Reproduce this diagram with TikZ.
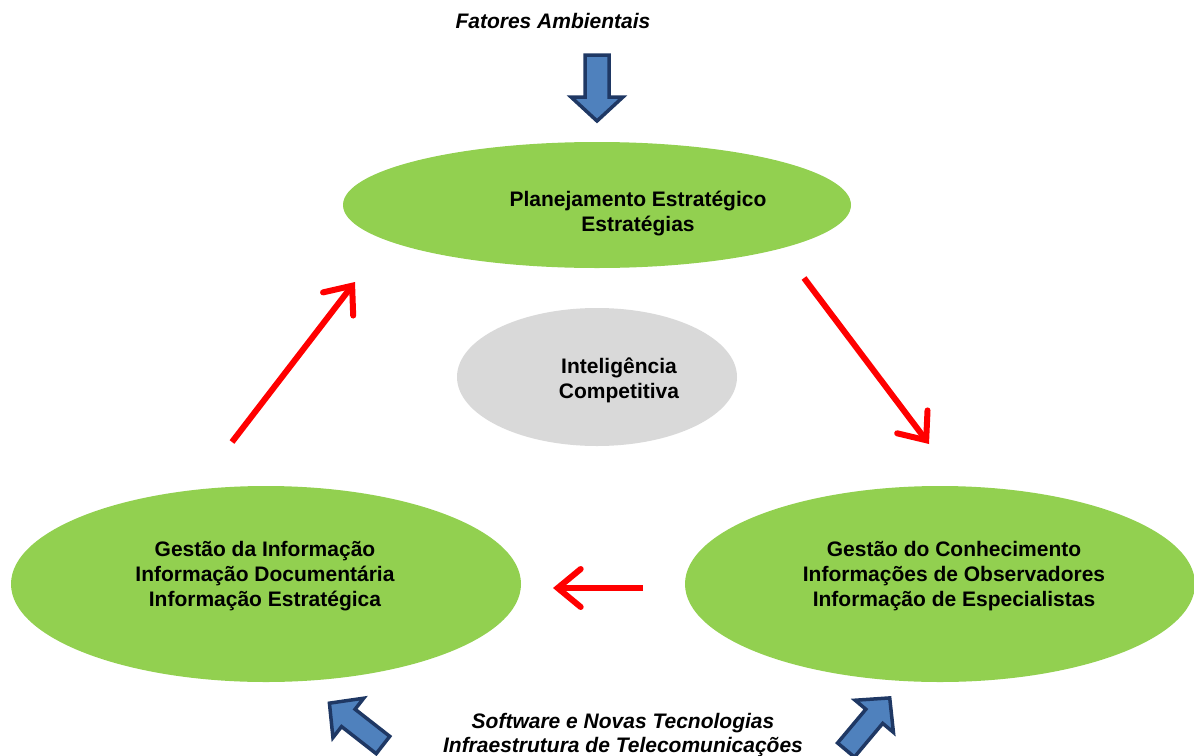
\documentclass[tikz,border=0pt]{standalone}
\usepackage{fontspec}
\setmainfont{Liberation Sans}
\usetikzlibrary{shapes.geometric,arrows.meta}

\definecolor{leafgreen}{HTML}{92D050}
\definecolor{coregray}{HTML}{D9D9D9}
\definecolor{arrowblue}{HTML}{4F81BD}
\definecolor{arrowedge}{HTML}{1F3864}
\definecolor{flowred}{HTML}{FF0000}

\tikzset{
  label text/.style={font=\fontsize{21}{25}\selectfont\bfseries, align=center, text=black},
  side text/.style={font=\fontsize{21}{24}\selectfont\bfseries\itshape, align=center, text=black},
  green oval/.style={ellipse, fill=leafgreen, draw=none, inner sep=0pt},
  gray oval/.style={ellipse, fill=coregray, draw=none, inner sep=0pt},
  flow/.style={draw=flowred, line width=6pt,
    -{Straight Barb[length=23pt,width=38pt,line cap=round,line join=miter]}},
  blockarrow/.style={fill=arrowblue, draw=arrowedge, line width=3.5pt, line join=miter},
}

\begin{document}
\begin{tikzpicture}[x=1pt,y=-1pt]
  \useasboundingbox (0,0) rectangle (1194,755);
  \clip (0,0) rectangle (1194,755);

  % ellipses
  \node[green oval, minimum width=508, minimum height=126] (plan) at (597,205) {};
  \node[gray oval, minimum width=280, minimum height=138] (ic) at (597,377) {};
  \node[green oval, minimum width=510, minimum height=196] (gi) at (266,584) {};
  \node[green oval, minimum width=510, minimum height=196] (gc) at (940,584) {};

  % ellipse labels
  \node[label text] (plantxt) at (638,214) {Planejamento Estratégico\\Estratégias};
  \node[label text] (ictxt) at (619,380) {Inteligência\\Competitiva};
  \node[label text] (gitxt) at (265,576) {Gestão da Informação\\Informação Documentária\\Informação Estratégica};
  \node[label text] (gctxt) at (954,576) {Gestão do Conhecimento\\Informações de Observadores\\Informação de Especialistas};

  % outside influences
  \node[side text] (env) at (553,21) {Fatores Ambientais};
  \node[side text] (tech) at (623,735) {Software e Novas Tecnologias\\Infraestrutura de Telecomunicações};

  % cycle connectors
  \coordinate (a1s) at (232,442); \coordinate (a1e) at (355,282);
  \coordinate (a2s) at (804,278); \coordinate (a2e) at (929,444);
  \coordinate (a3s) at (643,588); \coordinate (a3e) at (553,588);
  \draw[flow] (a1s) -- (a1e);
  \draw[flow] (a2s) -- (a2e);
  \draw[flow] (a3s) -- (a3e);

  % block arrows (local frame: tail at origin, pointing along +x)
  \draw[blockarrow, shift={(597,55)}, rotate=-90] (0,12) -- (42,12) -- (42,26) -- (66,0) -- (42,-26) -- (42,-12) -- (0,-12) -- cycle;
  \draw[blockarrow, shift={(383,745)}, rotate=142] (0,11) -- (44,11) -- (44,25) -- (68,0) -- (44,-25) -- (44,-11) -- (0,-11) -- cycle;
  \draw[blockarrow, shift={(846,750)}, rotate=50] (0,11) -- (44,11) -- (44,25) -- (68,0) -- (44,-25) -- (44,-11) -- (0,-11) -- cycle;
\end{tikzpicture}
\end{document}
